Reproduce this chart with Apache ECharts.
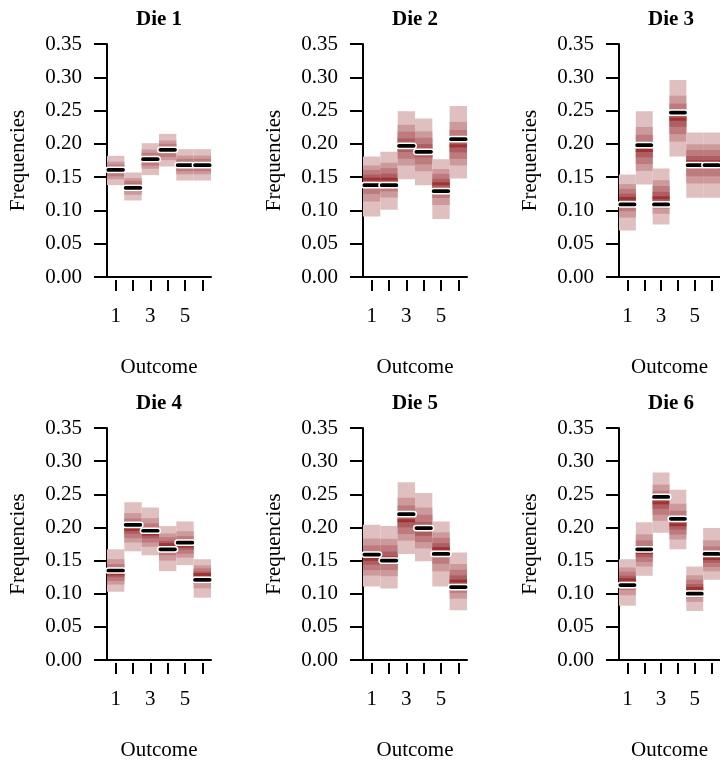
<!DOCTYPE html>
<html lang="en">
<head>
    <meta charset="UTF-8">
    <script src="https://cdn.jsdelivr.net/npm/echarts@6/dist/echarts.min.js"></script>
    <title>Die frequencies</title>
</head>
<body style="margin:0;background:#fff;">
    <div id="main" style="width: 720px;height:762px;"></div>

    <script type="text/javascript">
        var outcomes = ['1', '2', '3', '4', '5', '6'];
        var dieNames = ['Die 1', 'Die 2', 'Die 3', 'Die 4', 'Die 5', 'Die 6'];

        // observed relative frequencies (black bars), one row per die
        var observed = [
            [0.161, 0.134, 0.177, 0.191, 0.168, 0.168],
            [0.138, 0.138, 0.197, 0.188, 0.129, 0.207],
            [0.109, 0.198, 0.109, 0.247, 0.168, 0.168],
            [0.135, 0.204, 0.195, 0.167, 0.177, 0.121],
            [0.159, 0.150, 0.220, 0.199, 0.160, 0.110],
            [0.113, 0.167, 0.246, 0.213, 0.100, 0.160]
        ];
        // posterior median
        var median = [
            [0.160, 0.136, 0.177, 0.190, 0.168, 0.168],
            [0.147, 0.147, 0.198, 0.190, 0.140, 0.197],
            [0.118, 0.190, 0.119, 0.237, 0.173, 0.173],
            [0.130, 0.197, 0.190, 0.174, 0.172, 0.129],
            [0.152, 0.154, 0.210, 0.197, 0.168, 0.119],
            [0.121, 0.162, 0.237, 0.204, 0.108, 0.153]
        ];
        // outer interval, lower and upper
        var lower = [
            [0.138, 0.115, 0.153, 0.166, 0.145, 0.145],
            [0.091, 0.101, 0.147, 0.138, 0.087, 0.148],
            [0.070, 0.139, 0.079, 0.181, 0.119, 0.119],
            [0.103, 0.164, 0.158, 0.134, 0.143, 0.094],
            [0.111, 0.108, 0.160, 0.149, 0.111, 0.075],
            [0.082, 0.127, 0.192, 0.167, 0.074, 0.121]
        ];
        var upper = [
            [0.182, 0.157, 0.201, 0.215, 0.192, 0.192],
            [0.181, 0.188, 0.249, 0.238, 0.177, 0.257],
            [0.154, 0.249, 0.163, 0.296, 0.217, 0.217],
            [0.167, 0.238, 0.230, 0.202, 0.209, 0.152],
            [0.204, 0.202, 0.268, 0.252, 0.209, 0.162],
            [0.152, 0.208, 0.283, 0.257, 0.141, 0.199]
        ];
        // nested interval widths (share of the outer one) and their shades
        var bandLevels = [1, 0.6, 0.4, 0.2];
        var bandColors = ['#dfbfc0', '#cd9a9c', '#be7a7c', '#ae5e60'];
        var medianColor = '#a03232';

        var panelLeft = [107, 363, 619];
        var panelTop = [44, 428];
        var panelW = 104, panelH = 233;
        var serif = 'Liberation Serif, Times New Roman, serif';

        var grids = [], xAxes = [], yAxes = [], series = [], texts = [];

        function renderBands(params, api) {
            var cat = api.value(0);
            var lo = api.value(1), med = api.value(2), hi = api.value(3);
            var cx = api.coord([cat, med])[0];
            var bw = api.size([1, 0])[0];
            var kids = [];
            for (var k = 0; k < bandLevels.length; k++) {
                var f = bandLevels[k];
                var yTop = api.coord([cat, med + f * (hi - med)])[1];
                var yBot = api.coord([cat, med - f * (med - lo)])[1];
                kids.push({
                    type: 'rect',
                    shape: {x: cx - bw / 2, y: yTop, width: bw, height: yBot - yTop},
                    style: {fill: bandColors[k]}
                });
            }
            var ym = api.coord([cat, med])[1];
            kids.push({
                type: 'rect',
                shape: {x: cx - bw / 2, y: ym - 1.5, width: bw, height: 3},
                style: {fill: medianColor}
            });
            return {type: 'group', children: kids};
        }

        function renderObs(params, api) {
            var cat = api.value(0);
            var p = api.coord([cat, api.value(1)]);
            var bw = api.size([1, 0])[0];
            return {
                type: 'rect',
                shape: {x: p[0] - bw / 2 - 1.3, y: p[1] - 2.6, width: bw + 2.6, height: 5.2, r: 2.6},
                style: {fill: '#000', stroke: '#fff', lineWidth: 1.5}
            };
        }

        for (var d = 0; d < 6; d++) {
            var gx = panelLeft[d % 3];
            var gy = panelTop[Math.floor(d / 3)];
            grids.push({left: gx, top: gy, width: panelW, height: panelH});

            // axis line at zero
            xAxes.push({
                type: 'category', gridIndex: d, data: outcomes, boundaryGap: true,
                axisLine: {show: true, lineStyle: {color: '#000', width: 2}},
                axisTick: {show: false}, axisLabel: {show: false},
                name: 'Outcome', nameLocation: 'middle', nameGap: 80,
                nameTextStyle: {fontFamily: serif, fontSize: 21, color: '#000'}
            });
            // ticks and labels, slightly below the line
            xAxes.push({
                type: 'category', gridIndex: d, data: outcomes, boundaryGap: true,
                position: 'bottom', offset: 3,
                axisLine: {show: false},
                axisTick: {show: true, alignWithLabel: true, interval: 0, length: 11,
                    lineStyle: {color: '#000', width: 2}},
                axisLabel: {interval: 1, margin: 26, fontFamily: serif, fontSize: 21, color: '#000'}
            });
            yAxes.push({
                type: 'value', gridIndex: d, min: 0, max: 0.35, interval: 0.05,
                axisLine: {show: true, lineStyle: {color: '#000', width: 2}},
                axisTick: {show: true, length: 13, lineStyle: {color: '#000', width: 2}},
                axisLabel: {margin: 25, fontFamily: serif, fontSize: 21, color: '#000',
                    formatter: function (v) { return v.toFixed(2); }},
                splitLine: {show: false},
                name: 'Frequencies', nameLocation: 'middle', nameGap: 78,
                nameTextStyle: {fontFamily: serif, fontSize: 21, color: '#000'}
            });

            var bandData = [], obsData = [];
            for (var i = 0; i < outcomes.length; i++) {
                bandData.push([i, lower[d][i], median[d][i], upper[d][i]]);
                obsData.push([i, observed[d][i]]);
            }
            series.push({
                type: 'custom', xAxisIndex: 2 * d, yAxisIndex: d,
                renderItem: renderBands, data: bandData, silent: true, clip: false
            });
            series.push({
                type: 'custom', xAxisIndex: 2 * d, yAxisIndex: d,
                renderItem: renderObs, data: obsData, silent: true, clip: false
            });

            texts.push({
                type: 'text', x: gx + panelW / 2, y: gy - 24,
                style: {text: dieNames[d], font: 'bold 21px ' + serif, fill: '#000',
                    textAlign: 'center', textVerticalAlign: 'middle'}
            });
        }

        var myChart = echarts.init(document.getElementById('main'));
        myChart.setOption({
            animation: false,
            backgroundColor: '#fff',
            grid: grids,
            xAxis: xAxes,
            yAxis: yAxes,
            series: series,
            graphic: texts
        });
    </script>
</body>
</html>
